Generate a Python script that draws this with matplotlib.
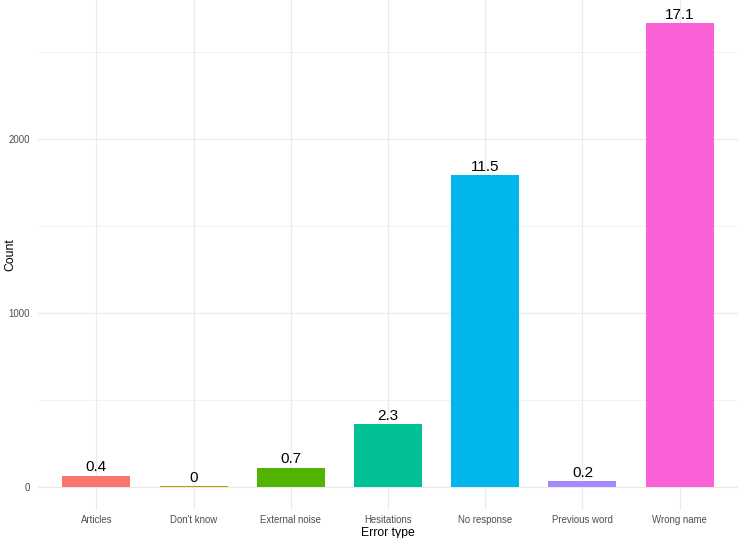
import numpy as np
import matplotlib.pyplot as plt

plt.rcParams['font.family'] = ['Liberation Sans', 'DejaVu Sans']

categories = ['Articles', "Don't know", 'External noise', 'Hesitations',
              'No response', 'Previous word', 'Wrong name']
counts = [63, 5, 109, 360, 1793, 32, 2667]
percents = ['0.4', '0', '0.7', '2.3', '11.5', '0.2', '17.1']
colors = ['#F8766D', '#C49A00', '#53B400', '#00C094', '#00B6EB', '#A58AFF', '#FB61D7']

fig = plt.figure(figsize=(7.4, 5.38), dpi=100)
ax = fig.add_axes([38 / 740, 1 - 510 / 538, 700 / 740, 510 / 538])

x = np.arange(1, len(categories) + 1)
ax.bar(x, counts, width=0.7, color=colors, zorder=2)

for xi, c, p in zip(x, counts, percents):
    ax.text(xi, c + 8, p, ha='center', va='bottom', fontsize=11, color='black', zorder=3)

ymax = max(counts)
ax.set_ylim(-0.05 * ymax, 1.05 * ymax)
ax.set_xlim(0.4, len(categories) + 0.6)

ax.set_xticks(x)
ax.set_xticklabels(categories)
ax.set_yticks([0, 1000, 2000])
ax.set_yticks([500, 1500, 2500], minor=True)
ax.set_xticks([], minor=True)

ax.grid(True, which='major', color='#EBEBEB', linewidth=0.9, zorder=0)
ax.grid(True, which='minor', axis='y', color='#F0F0F0', linewidth=0.6, zorder=0)
ax.set_axisbelow(True)

for s in ax.spines.values():
    s.set_visible(False)
ax.tick_params(which='both', length=0, labelsize=6.9, labelcolor='#4D4D4D', pad=3.5)
ax.tick_params(axis='y', pad=6)

ax.set_xlabel('Error type', fontsize=8.8, va='center')
ax.xaxis.set_label_coords(0.5, (510 - 533) / 510)
ax.set_ylabel('Count', fontsize=8.8, va='center')
ax.yaxis.set_label_coords((10 - 38) / 700, 0.5)

fig.savefig('out.png', dpi=100)
